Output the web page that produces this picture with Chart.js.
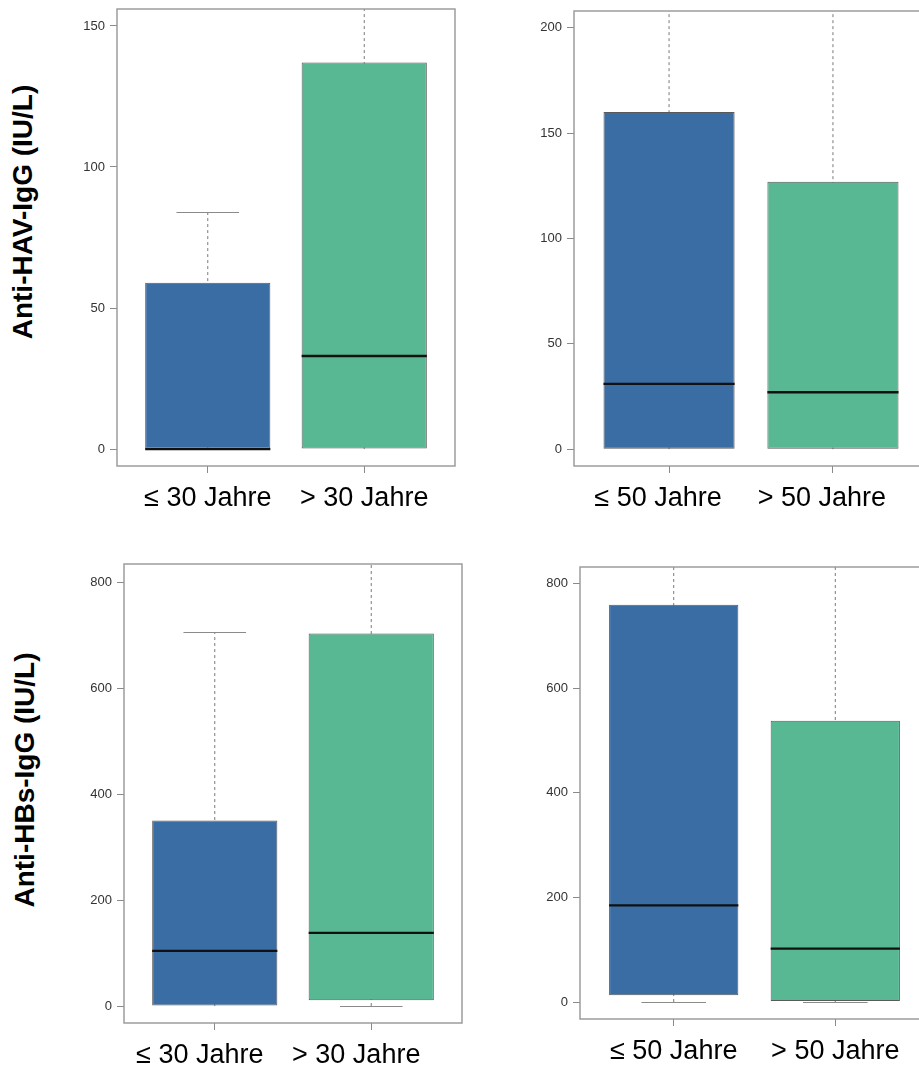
<!DOCTYPE html>
<html><head><meta charset="utf-8">
<script src="https://cdn.jsdelivr.net/npm/chart.js@4.4.1/dist/chart.umd.min.js"></script>
<style>
html,body{margin:0;padding:0;background:#fff;overflow:hidden;width:919px;height:1070px;position:relative;}
canvas{position:absolute;}
.ytitle{position:absolute;font-family:"Liberation Sans",Arial,sans-serif;font-weight:bold;font-size:28px;color:#000;white-space:nowrap;transform:translate(-50%,-50%) rotate(-90deg);}
</style></head><body>
<div class="ytitle" style="left:23px;top:212px">Anti-HAV-IgG (IU/L)</div>
<div class="ytitle" style="left:25px;top:780px">Anti-HBs-IgG (IU/L)</div>
<canvas id="p1" width="430" height="530" style="left:40px;top:0px"></canvas>
<canvas id="p2" width="460" height="530" style="left:480px;top:0px"></canvas>
<canvas id="p3" width="430" height="530" style="left:40px;top:540px"></canvas>
<canvas id="p4" width="460" height="530" style="left:480px;top:540px"></canvas>
<script>
// ---- data ----
const groupColors = ['#3a6da4', '#57b893'];

const hav30Labels = ['≤ 30 Jahre', '> 30 Jahre'];
const hav30Q1 = [0, 0];
const hav30Median = [0, 33];
const hav30Q3 = [59, 137];
const hav30Low = [0, 0];
const hav30High = [84, 340];
const hav30Ticks = [0, 50, 100, 150];

const hav50Labels = ['≤ 50 Jahre', '> 50 Jahre'];
const hav50Q1 = [0, 0];
const hav50Median = [31, 27];
const hav50Q3 = [160, 127];
const hav50Low = [0, 0];
const hav50High = [390, 310];
const hav50Ticks = [0, 50, 100, 150, 200];

const hbs30Labels = ['≤ 30 Jahre', '> 30 Jahre'];
const hbs30Q1 = [0, 11];
const hbs30Median = [104, 138];
const hbs30Q3 = [350, 703];
const hbs30Low = [0, 0];
const hbs30High = [705, 1700];
const hbs30Ticks = [0, 200, 400, 600, 800];

const hbs50Labels = ['≤ 50 Jahre', '> 50 Jahre'];
const hbs50Q1 = [13, 2];
const hbs50Median = [185, 102];
const hbs50Q3 = [760, 538];
const hbs50Low = [0, 0];
const hbs50High = [1850, 1340];
const hbs50Ticks = [0, 200, 400, 600, 800];

// ---- box plot plugin (whiskers, medians, frame) ----
const BOX_W = 0.8;
const boxPlot = {
  id: 'boxPlot',
  beforeDatasetsDraw(chart, args, o) {
    const {ctx, chartArea: a, scales: {x, y}} = chart;
    ctx.save();
    ctx.beginPath(); ctx.rect(a.left, a.top, a.right - a.left, a.bottom - a.top); ctx.clip();
    o.q1.forEach((_, i) => {
      const cx = x.getPixelForValue(i + 1);
      const c0 = x.getPixelForValue(i + 1 - BOX_W / 4), c1 = x.getPixelForValue(i + 1 + BOX_W / 4);
      ctx.strokeStyle = '#7a7a7a'; ctx.lineWidth = 1; ctx.setLineDash([3, 3]);
      ctx.beginPath();
      ctx.moveTo(cx, y.getPixelForValue(o.lo[i])); ctx.lineTo(cx, y.getPixelForValue(o.hi[i]));
      ctx.stroke();
      ctx.setLineDash([]); ctx.strokeStyle = '#8a8a8a';
      const caps = [];
      if (o.lo[i] < o.q1[i]) caps.push(o.lo[i]);
      if (o.hi[i] > o.q3[i]) caps.push(o.hi[i]);
      caps.forEach(v => {
        const py = Math.round(y.getPixelForValue(v)) + 0.5;
        ctx.beginPath(); ctx.moveTo(c0, py); ctx.lineTo(c1, py); ctx.stroke();
      });
    });
    ctx.restore();
  },
  afterDatasetsDraw(chart, args, o) {
    const {ctx, scales: {x, y}} = chart;
    ctx.save();
    ctx.strokeStyle = '#111'; ctx.lineWidth = 2.3;
    o.med.forEach((v, i) => {
      const py = y.getPixelForValue(v);
      ctx.beginPath();
      ctx.moveTo(x.getPixelForValue(i + 1 - BOX_W / 2), py);
      ctx.lineTo(x.getPixelForValue(i + 1 + BOX_W / 2), py);
      ctx.stroke();
    });
    ctx.restore();
  },
  afterDraw(chart) {
    const {ctx, chartArea: a} = chart;
    ctx.save();
    ctx.strokeStyle = '#969696'; ctx.lineWidth = 1.4;
    ctx.strokeRect(a.left, a.top, a.right - a.left, a.bottom - a.top);
    ctx.restore();
  }
};

function makePanel(id, labels, q1, med, q3, lo, hi, yTicks, ymin, ymax, lay) {
  new Chart(document.getElementById(id), {
    type: 'bar',
    data: {
      datasets: [{
        data: labels.map((_, i) => ({x: i + 1, y: [q1[i], q3[i]]})),
        backgroundColor: groupColors,
        borderColor: '#5a5a5a',
        borderWidth: 1,
        borderSkipped: false,
        barPercentage: BOX_W,
        categoryPercentage: 1
      }]
    },
    options: {
      responsive: false,
      animation: false,
      events: [],
      layout: {padding: {top: lay.top, right: lay.right, left: 0, bottom: 0}},
      plugins: {
        legend: {display: false},
        tooltip: {enabled: false},
        boxPlot: {q1, med, q3, lo, hi}
      },
      scales: {
        x: {
          type: 'linear', min: 0.42, max: 2.58, offset: false,
          afterBuildTicks: ax => { ax.ticks = labels.map((_, i) => ({value: i + 1})); },
          afterFit: ax => { ax.height = lay.xh; ax.paddingLeft = 0; ax.paddingRight = 0; },
          grid: {display: true, offset: false, drawOnChartArea: false, drawTicks: true, tickLength: 7, color: '#8a8a8a'},
          border: {display: false},
          ticks: {
            autoSkip: false, maxRotation: 0, padding: 9, labelOffset: lay.lo || 0,
            color: '#000', font: {family: '"Liberation Sans", Arial, sans-serif', size: 27},
            callback: (v, i) => labels[i]
          }
        },
        y: {
          min: ymin, max: ymax,
          afterBuildTicks: ax => { ax.ticks = yTicks.map(v => ({value: v})); },
          afterFit: ax => { ax.width = lay.yw; ax.paddingTop = 0; ax.paddingBottom = 0; },
          grid: {display: true, drawOnChartArea: false, drawTicks: true, tickLength: 7, color: '#8a8a8a'},
          border: {display: false},
          ticks: {padding: 5, color: '#333', font: {family: '"Liberation Sans", Arial, sans-serif', size: 13}}
        }
      }
    },
    plugins: [boxPlot]
  });
}

makePanel('p1', hav30Labels, hav30Q1, hav30Median, hav30Q3, hav30Low, hav30High, hav30Ticks, -6, 156,
  {top: 9, right: 15, yw: 77, xh: 64});
makePanel('p2', hav50Labels, hav50Q1, hav50Median, hav50Q3, hav50Low, hav50High, hav50Ticks, -8, 208,
  {top: 11, right: 12, yw: 94, xh: 64, lo: -11});
makePanel('p3', hbs30Labels, hbs30Q1, hbs30Median, hbs30Q3, hbs30Low, hbs30High, hbs30Ticks, -32, 834,
  {top: 24, right: 8, yw: 84, xh: 47, lo: -15});
makePanel('p4', hbs50Labels, hbs50Q1, hbs50Median, hbs50Q3, hbs50Low, hbs50High, hbs50Ticks, -32.5, 832,
  {top: 27, right: 11, yw: 100, xh: 51});
</script>
</body></html>
